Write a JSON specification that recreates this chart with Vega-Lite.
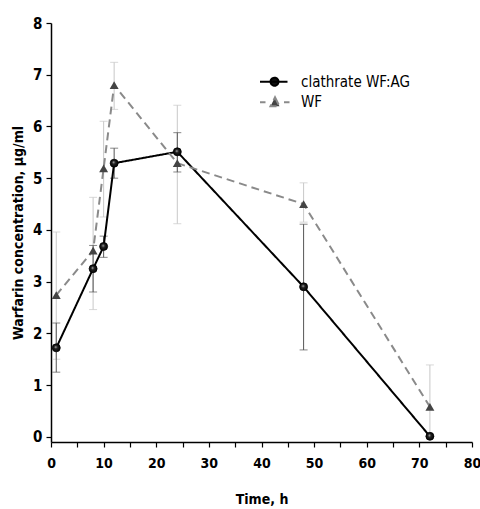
{
  "$schema": "https://vega.github.io/schema/vega-lite/v6.json",
  "autosize": "none",
  "width": 421,
  "height": 419,
  "padding": {"left": 51, "top": 23, "right": 8, "bottom": 67},
  "background": "white",
  "config": {
    "view": {"stroke": null},
    "font": "'DejaVu Sans Condensed', 'Liberation Sans', sans-serif"
  },
  "data": {
    "values": [
      {"t": 1, "series": "clathrate WF:AG", "mean": 1.72, "lo": 1.25, "hi": 2.2},
      {"t": 8, "series": "clathrate WF:AG", "mean": 3.25, "lo": 2.8, "hi": 3.7},
      {"t": 10, "series": "clathrate WF:AG", "mean": 3.68, "lo": 3.47, "hi": 3.88},
      {"t": 12, "series": "clathrate WF:AG", "mean": 5.29, "lo": 5.0, "hi": 5.58},
      {"t": 24, "series": "clathrate WF:AG", "mean": 5.51, "lo": 5.12, "hi": 5.88},
      {"t": 48, "series": "clathrate WF:AG", "mean": 2.9, "lo": 1.68, "hi": 4.11},
      {"t": 72, "series": "clathrate WF:AG", "mean": 0.01, "lo": 0.01, "hi": 0.01},
      {"t": 1, "series": "WF", "mean": 2.74, "lo": 1.5, "hi": 3.96},
      {"t": 8, "series": "WF", "mean": 3.6, "lo": 2.46, "hi": 4.63},
      {"t": 10, "series": "WF", "mean": 5.19, "lo": 4.25, "hi": 6.1},
      {"t": 12, "series": "WF", "mean": 6.8, "lo": 6.33, "hi": 7.24},
      {"t": 24, "series": "WF", "mean": 5.29, "lo": 4.12, "hi": 6.41},
      {"t": 48, "series": "WF", "mean": 4.5, "lo": 4.15, "hi": 4.91},
      {"t": 72, "series": "WF", "mean": 0.58, "lo": 0.0, "hi": 1.39}
    ]
  },
  "encoding": {
    "x": {
      "field": "t", "type": "quantitative", "title": "Time, h",
      "scale": {"domain": [0, 80], "nice": false, "zero": false},
      "axis": {
        "values": [0, 5, 10, 15, 20, 25, 30, 35, 40, 45, 50, 55, 60, 65, 70, 75, 80],
        "labelExpr": "datum.value % 10 === 0 ? datum.label : ''",
        "titleFontSize": 14, "titleFontWeight": "bold", "titleColor": "black",
        "titlePadding": 22,
        "labelFontSize": 14, "labelFontWeight": "bold", "labelColor": "black",
        "labelPadding": 9, "labelFlush": false,
        "grid": false, "domainColor": "black", "domainWidth": 1.5, "tickColor": "black", "tickWidth": 1.2, "tickSize": 5
      }
    }
  },
  "layer": [
    {
      "transform": [{"filter": "datum.series === 'WF'"}],
      "mark": {"type": "errorbar", "ticks": {"size": 8, "thickness": 1}, "color": "#c8c8c8", "thickness": 1},
      "encoding": {
        "y": {"field": "lo", "type": "quantitative", "title": "Warfarin concentration, µg/ml",
          "scale": {"domain": [-0.1, 8], "nice": false, "zero": false},
          "axis": {
            "values": [0, 0.5, 1, 1.5, 2, 2.5, 3, 3.5, 4, 4.5, 5, 5.5, 6, 6.5, 7, 7.5, 8],
            "labelExpr": "datum.value % 1 === 0 ? datum.label : ''",
            "titleFontSize": 14, "titleFontWeight": "bold", "titleColor": "black",
            "titlePadding": 7,
            "labelFontSize": 15, "labelFontWeight": "bold", "labelColor": "black",
            "labelPadding": 4,
            "grid": false, "domainColor": "black", "domainWidth": 1.5, "tickColor": "black", "tickWidth": 1.2, "tickSize": 5
          }},
        "y2": {"field": "hi"}
      }
    },
    {
      "transform": [{"filter": "datum.series !== 'WF'"}],
      "mark": {"type": "errorbar", "ticks": {"size": 8, "thickness": 1}, "color": "#555555", "thickness": 1},
      "encoding": {
        "y": {"field": "lo", "type": "quantitative", "title": "Warfarin concentration, µg/ml"},
        "y2": {"field": "hi"}
      }
    },
    {
      "mark": {"type": "line", "strokeWidth": 2},
      "encoding": {
        "y": {"field": "mean", "type": "quantitative", "title": "Warfarin concentration, µg/ml"},
        "color": {
          "field": "series", "type": "nominal",
          "scale": {"domain": ["clathrate WF:AG", "WF"], "range": ["#000000", "#8a8a8a"]},
          "legend": {
            "title": null, "orient": "none", "legendX": 212.5, "legendY": 47.7,
            "symbolSize": 400, "symbolStrokeWidth": 2, "symbolOffset": 0,
            "labelFontSize": 15, "labelColor": "black", "labelOffset": 15.5,
            "rowPadding": 1.6, "padding": 0,
            "encode": {
              "symbols": {
                "update": {
                  "shape": {"signal": "datum.value === 'WF' ? 'M-1.45,0H-0.9M0.95,0H1.5M0.05,-0.5L0.5,0.4L-0.4,0.4Z' : 'M-1.45,0H1.3M-0.4,0A0.4,0.4 0 1,1 0.4,0A0.4,0.4 0 1,1 -0.4,0Z'"},
                  "fill": {"signal": "datum.value === 'WF' ? '#444444' : '#111111'"},
                  "opacity": {"value": 1}
                }
              }
            }
          }
        },
        "strokeDash": {
          "field": "series", "type": "nominal",
          "scale": {"domain": ["clathrate WF:AG", "WF"], "range": [[1, 0], [8, 5]]},
          "legend": null
        }
      }
    },
    {
      "transform": [{"filter": "datum.series === 'WF'"}],
      "mark": {"type": "point", "shape": "triangle-up", "filled": true, "size": 80, "color": "#444444", "opacity": 1},
      "encoding": {"y": {"field": "mean", "type": "quantitative", "title": "Warfarin concentration, µg/ml"}}
    },
    {
      "transform": [{"filter": "datum.series !== 'WF'"}],
      "mark": {
        "type": "point", "shape": "circle", "size": 64, "opacity": 1, "strokeWidth": 0.8, "stroke": "black",
        "fill": {"gradient": "radial", "x1": 0.42, "y1": 0.38, "r1": 0, "x2": 0.5, "y2": 0.5, "r2": 0.55,
          "stops": [{"offset": 0, "color": "#c8c8c8"}, {"offset": 0.35, "color": "#222222"}, {"offset": 1, "color": "#000000"}]},
        "filled": true
      },
      "encoding": {"y": {"field": "mean", "type": "quantitative", "title": "Warfarin concentration, µg/ml"}}
    }
  ]
}
